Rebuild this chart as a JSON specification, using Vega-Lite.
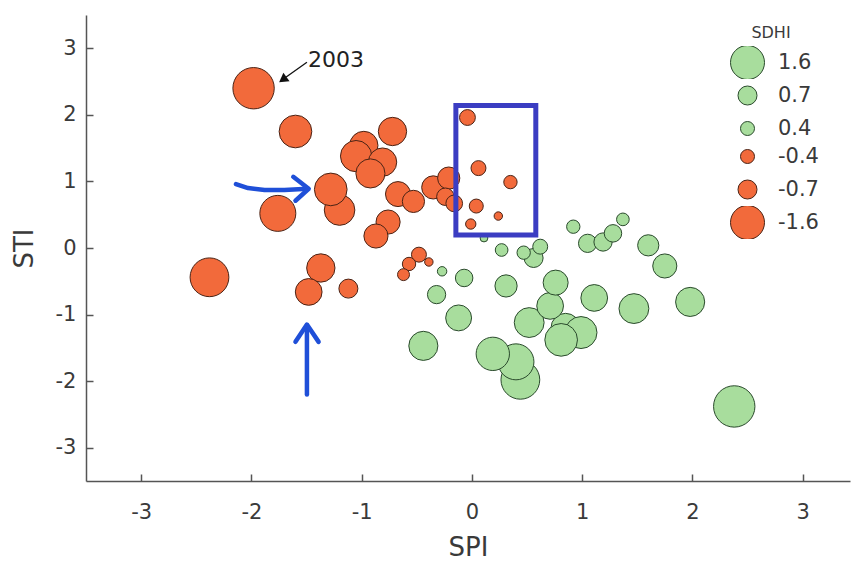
{
  "$schema": "https://vega.github.io/schema/vega-lite/v6.json",
  "width": 764,
  "height": 466,
  "autosize": "none",
  "padding": {"left": 86, "top": 15, "right": 1, "bottom": 82},
  "background": "white",
  "config": {
    "view": {"stroke": null},
    "axis": {
      "grid": false,
      "domainColor": "#555555",
      "domainWidth": 1.5,
      "tickColor": "#555555",
      "tickWidth": 1.5,
      "tickSize": -7,
      "labelFont": "DejaVu Sans",
      "labelFontSize": 21,
      "labelColor": "#3a3a3a",
      "titleFont": "DejaVu Sans",
      "titleFontSize": 26,
      "titleFontWeight": "normal",
      "titleColor": "#3a3a3a"
    },
    "axisX": {"labelPadding": 27, "titlePadding": 12},
    "axisY": {"labelPadding": 17, "titlePadding": 18},
    "legend": {
      "orient": "none",
      "titleFont": "DejaVu Sans",
      "titleFontSize": 16,
      "titleFontWeight": "normal",
      "titleColor": "#3a3a3a",
      "titleAnchor": "middle",
      "labelFont": "DejaVu Sans",
      "labelFontSize": 21,
      "labelColor": "#3a3a3a",
      "labelOffset": 13,
      "clipHeight": 33,
      "rowPadding": 0,
      "symbolStrokeWidth": 1,
      "symbolOpacity": 1
    }
  },
  "datasets": {
    "pts": [
      {"SPI": -2.38, "STI": -0.44, "SDHI": -1.85},
      {"SPI": 2.38, "STI": -2.38, "SDHI": 2.0},
      {"SPI": -1.98, "STI": 2.40, "SDHI": -2.0},
      {"SPI": -1.76, "STI": 0.52, "SDHI": -1.7},
      {"SPI": -1.60, "STI": 1.75, "SDHI": -1.5},
      {"SPI": -0.72, "STI": 1.75, "SDHI": -1.2},
      {"SPI": -0.98, "STI": 1.54, "SDHI": -1.2},
      {"SPI": -1.05, "STI": 1.38, "SDHI": -1.4},
      {"SPI": -0.81, "STI": 1.29, "SDHI": -1.2},
      {"SPI": -0.92, "STI": 1.12, "SDHI": -1.25},
      {"SPI": -1.20, "STI": 0.57, "SDHI": -1.35},
      {"SPI": -1.28, "STI": 0.88, "SDHI": -1.5},
      {"SPI": -0.67, "STI": 0.81, "SDHI": -1.0},
      {"SPI": -0.53, "STI": 0.70, "SDHI": -0.85},
      {"SPI": -0.76, "STI": 0.39, "SDHI": -0.95},
      {"SPI": -0.87, "STI": 0.18, "SDHI": -0.95},
      {"SPI": -0.35, "STI": 0.91, "SDHI": -0.9},
      {"SPI": -0.21, "STI": 1.05, "SDHI": -0.85},
      {"SPI": -0.24, "STI": 0.77, "SDHI": -0.6},
      {"SPI": -0.16, "STI": 0.67, "SDHI": -0.55},
      {"SPI": -0.04, "STI": 1.96, "SDHI": -0.5},
      {"SPI": 0.06, "STI": 1.20, "SDHI": -0.45},
      {"SPI": 0.35, "STI": 0.99, "SDHI": -0.35},
      {"SPI": 0.04, "STI": 0.63, "SDHI": -0.4},
      {"SPI": -0.01, "STI": 0.36, "SDHI": -0.15},
      {"SPI": 0.24, "STI": 0.48, "SDHI": -0.05},
      {"SPI": -0.48, "STI": -0.10, "SDHI": -0.45},
      {"SPI": -0.57, "STI": -0.24, "SDHI": -0.35},
      {"SPI": -0.62, "STI": -0.40, "SDHI": -0.25},
      {"SPI": -0.39, "STI": -0.21, "SDHI": -0.05},
      {"SPI": -1.37, "STI": -0.30, "SDHI": -1.2},
      {"SPI": -1.48, "STI": -0.66, "SDHI": -1.1},
      {"SPI": -1.12, "STI": -0.61, "SDHI": -0.7},
      {"SPI": 0.44, "STI": -1.98, "SDHI": 1.85},
      {"SPI": 0.40, "STI": -1.71, "SDHI": 1.7},
      {"SPI": 0.19, "STI": -1.59, "SDHI": 1.55},
      {"SPI": 0.85, "STI": -1.20, "SDHI": 1.25},
      {"SPI": 0.99, "STI": -1.27, "SDHI": 1.45},
      {"SPI": 0.81, "STI": -1.38, "SDHI": 1.5},
      {"SPI": 0.52, "STI": -1.12, "SDHI": 1.3},
      {"SPI": -0.44, "STI": -1.47, "SDHI": 1.25},
      {"SPI": 1.47, "STI": -0.91, "SDHI": 1.3},
      {"SPI": 1.98, "STI": -0.81, "SDHI": 1.25},
      {"SPI": 0.71, "STI": -0.87, "SDHI": 1.1},
      {"SPI": 1.11, "STI": -0.75, "SDHI": 1.1},
      {"SPI": -0.12, "STI": -1.05, "SDHI": 1.05},
      {"SPI": 0.76, "STI": -0.52, "SDHI": 1.0},
      {"SPI": 0.31, "STI": -0.57, "SDHI": 0.85},
      {"SPI": 1.75, "STI": -0.27, "SDHI": 0.95},
      {"SPI": 1.60, "STI": 0.04, "SDHI": 0.8},
      {"SPI": -0.32, "STI": -0.70, "SDHI": 0.65},
      {"SPI": -0.07, "STI": -0.45, "SDHI": 0.6},
      {"SPI": 0.56, "STI": -0.15, "SDHI": 0.7},
      {"SPI": 1.05, "STI": 0.07, "SDHI": 0.65},
      {"SPI": 1.19, "STI": 0.09, "SDHI": 0.65},
      {"SPI": 1.28, "STI": 0.22, "SDHI": 0.6},
      {"SPI": 0.62, "STI": 0.02, "SDHI": 0.45},
      {"SPI": 0.47, "STI": -0.07, "SDHI": 0.35},
      {"SPI": 0.92, "STI": 0.32, "SDHI": 0.35},
      {"SPI": 1.37, "STI": 0.43, "SDHI": 0.3},
      {"SPI": 0.27, "STI": -0.03, "SDHI": 0.3},
      {"SPI": -0.27, "STI": -0.35, "SDHI": 0.1},
      {"SPI": 0.11, "STI": 0.15, "SDHI": 0.02}
    ]
  },
  "resolve": {"scale": {"size": "independent"}, "legend": {"size": "independent"}},
  "layer": [
    {
      "data": {"name": "pts"},
      "transform": [{"filter": "datum.SDHI > 0"}],
      "mark": {"type": "circle", "opacity": 1, "strokeWidth": 1, "fill": "#a8dd9d", "stroke": "#2a4a2c"},
      "encoding": {
        "x": {"field": "SPI", "type": "quantitative", "title": "SPI",
              "scale": {"domain": [-3.5, 3.43], "nice": false, "zero": false},
              "axis": {"values": [-3, -2, -1, 0, 1, 2, 3], "labelExpr": "toString(datum.value)"}},
        "y": {"field": "STI", "type": "quantitative", "title": "STI",
              "scale": {"domain": [-3.5, 3.5], "nice": false, "zero": false},
              "axis": {"values": [-3, -2, -1, 0, 1, 2, 3], "labelExpr": "toString(datum.value)"}},
        "size": {"field": "SDHI", "type": "quantitative",
                 "scale": {"zero": false, "domain": [0, 0.4, 0.7, 1.6, 2.5],
                           "range": [53, 196, 361, 1156, 2406]},
                 "legend": {
                   "title": "SDHI",
                   "values": [1.6, 0.7, 0.4],
                   "labelExpr": "toString(datum.value)",
                   "legendX": 644,
                   "legendY": 10,
                   "symbolFillColor": "#a8dd9d",
                   "encode": {"symbols": {"stroke": {"value": "#2a4a2c"}, "strokeWidth": {"value": 1}}}
                 }}
      }
    },
    {
      "data": {"name": "pts"},
      "transform": [{"filter": "datum.SDHI <= 0"}],
      "mark": {"type": "circle", "opacity": 1, "strokeWidth": 1, "fill": "#f26a3b", "stroke": "#4a2315"},
      "encoding": {
        "x": {"field": "SPI", "type": "quantitative", "title": "SPI"},
        "y": {"field": "STI", "type": "quantitative", "title": "STI"},
        "size": {"field": "SDHI", "type": "quantitative",
                 "scale": {"zero": false, "domain": [-2.5, -1.6, -0.7, -0.4, 0],
                           "range": [2406, 1156, 361, 196, 53]},
                 "legend": {
                   "title": null,
                   "values": [-0.4, -0.7, -1.6],
                   "labelExpr": "toString(datum.value)",
                   "legendX": 644,
                   "legendY": 125,
                   "symbolFillColor": "#f26a3b",
                   "encode": {"symbols": {"stroke": {"value": "#4a2315"}, "strokeWidth": {"value": 1}}}
                 }}
      }
    },
    {
      "mark": {"type": "rule", "strokeDash": [3, 2], "color": "#555555", "strokeWidth": 1.2},
      "encoding": {"x": {"datum": 0, "type": "quantitative"}}
    },
    {
      "mark": {"type": "rule", "strokeDash": [3, 2], "color": "#555555", "strokeWidth": 1.2},
      "encoding": {"y": {"datum": 0, "type": "quantitative"}}
    },
    {
      "data": {"values": [{"SPI": -0.145, "SPI2": 0.58, "STI": 2.14, "STI2": 0.195}]},
      "mark": {"type": "rect", "fill": null, "fillOpacity": 0, "stroke": "#3b3dc2", "strokeWidth": 5},
      "encoding": {
        "x": {"field": "SPI", "type": "quantitative", "title": "SPI"},
        "x2": {"field": "SPI2"},
        "y": {"field": "STI", "type": "quantitative", "title": "STI"},
        "y2": {"field": "STI2"}
      }
    },
    {
      "data": {"values": [
        {"arrow": "h", "i": 1, "SPI": -2.14, "STI": 0.96},
        {"arrow": "h", "i": 2, "SPI": -2.03, "STI": 0.90},
        {"arrow": "h", "i": 3, "SPI": -1.88, "STI": 0.87},
        {"arrow": "h", "i": 4, "SPI": -1.70, "STI": 0.87},
        {"arrow": "h", "i": 5, "SPI": -1.49, "STI": 0.89},
        {"arrow": "hh", "i": 1, "SPI": -1.62, "STI": 1.07},
        {"arrow": "hh", "i": 2, "SPI": -1.48, "STI": 0.89},
        {"arrow": "hh", "i": 3, "SPI": -1.60, "STI": 0.71},
        {"arrow": "v", "i": 1, "SPI": -1.496, "STI": -2.20},
        {"arrow": "v", "i": 2, "SPI": -1.496, "STI": -1.16},
        {"arrow": "vh", "i": 1, "SPI": -1.60, "STI": -1.41},
        {"arrow": "vh", "i": 2, "SPI": -1.496, "STI": -1.15},
        {"arrow": "vh", "i": 3, "SPI": -1.39, "STI": -1.41}
      ]},
      "mark": {"type": "line", "color": "#1f4fd8", "strokeWidth": 4.5, "strokeCap": "round", "strokeJoin": "round"},
      "encoding": {
        "x": {"field": "SPI", "type": "quantitative", "title": "SPI"},
        "y": {"field": "STI", "type": "quantitative", "title": "STI"},
        "detail": {"field": "arrow"},
        "order": {"field": "i", "type": "quantitative"}
      }
    },
    {
      "data": {"values": [
        {"i": 1, "SPI": -1.496, "STI": 2.79},
        {"i": 2, "SPI": -1.70, "STI": 2.55}
      ]},
      "mark": {"type": "line", "color": "#111111", "strokeWidth": 1.3},
      "encoding": {
        "x": {"field": "SPI", "type": "quantitative", "title": "SPI"},
        "y": {"field": "STI", "type": "quantitative", "title": "STI"},
        "order": {"field": "i", "type": "quantitative"}
      }
    },
    {
      "data": {"values": [{"SPI": -1.715, "STI": 2.53}]},
      "mark": {"type": "point", "shape": "triangle-up", "filled": true, "color": "#111111", "opacity": 1, "size": 110, "angle": 234},
      "encoding": {
        "x": {"field": "SPI", "type": "quantitative", "title": "SPI"},
        "y": {"field": "STI", "type": "quantitative", "title": "STI"}
      }
    },
    {
      "data": {"values": [{"SPI": -1.487, "STI": 2.83, "label": "2003"}]},
      "mark": {"type": "text", "align": "left", "baseline": "middle", "font": "DejaVu Sans", "fontSize": 22, "color": "#222222"},
      "encoding": {
        "x": {"field": "SPI", "type": "quantitative", "title": "SPI"},
        "y": {"field": "STI", "type": "quantitative", "title": "STI"},
        "text": {"field": "label"}
      }
    }
  ]
}
